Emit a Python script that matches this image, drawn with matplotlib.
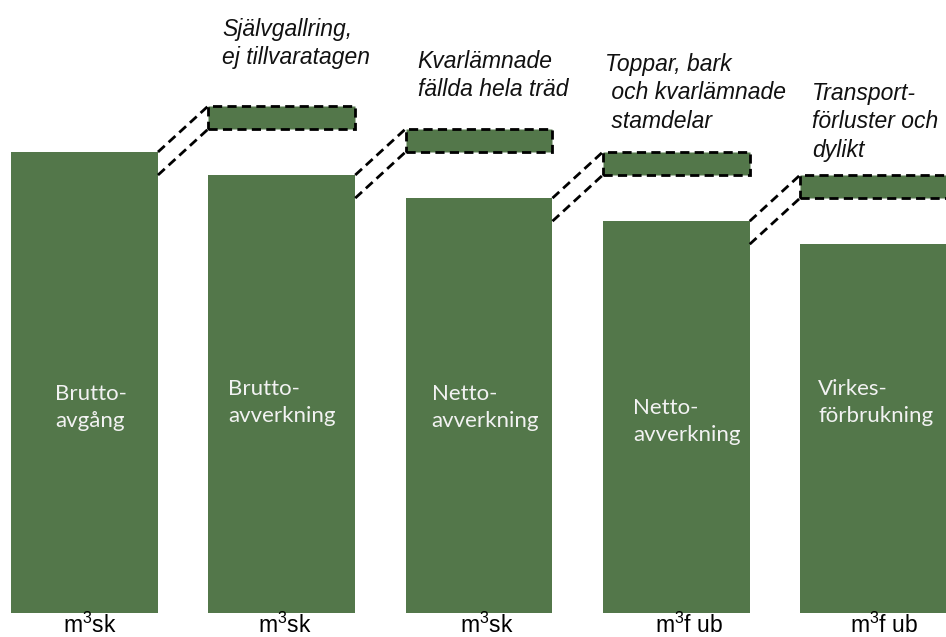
import matplotlib.pyplot as plt
from matplotlib.patches import Rectangle

plt.rcParams["mathtext.fontset"] = "custom"
plt.rcParams["mathtext.rm"] = "Liberation Sans"

# volumes, index 100 = bruttoavgång
steps = ["Brutto-\navgång", "Brutto-\navverkning", "Netto-\navverkning",
         "Netto-\navverkning", "Virkes-\nförbrukning"]
volumes = [100, 95, 90, 85, 80]
units = ["m$^3$sk", "m$^3$sk", "m$^3$sk", "m$^3$f ub", "m$^3$f ub"]
losses = ["Självgallring,\nej tillvaratagen", "Kvarlämnade\nfällda hela träd",
          "Toppar, bark\n och kvarlämnade\n stamdelar", "Transport-\nförluster och\ndylikt"]

green = "#53774a"
width = 0.745
lift = 10  # loss boxes are drawn lifted above the bars

# text placement tweaks (pixels)
step_dx = [44, 20, 26, 30, 18]
step_dy = [229, 234, 229, 215, 234]
unit_dx = [5.5, 3.5, 7.5, 12.5, 10.5]
loss_dx = [14, 12, 2, 12]
loss_dy = [595, 563, 560, 531]

fig = plt.figure(figsize=(9.46, 6.37), dpi=100)
ax = fig.add_axes([0, 0, 1, 1])
ax.set_xlim(-84.5 / 197.25, (946 - 84.5) / 197.25)
ax.set_ylim(-24 / 4.61, 613 / 4.61)
ax.axis("off")

xs = list(range(len(volumes)))
ax.bar(xs, volumes, width=width, color=green, linewidth=0)

dash = (0, (3.3, 1.9))
for i in range(1, len(volumes)):
    lo, hi = volumes[i] + lift, volumes[i - 1] + lift
    ax.add_patch(Rectangle((i - width / 2, lo), width, hi - lo, facecolor=green,
                           edgecolor="black", linewidth=2.0, linestyle=dash))
    x0, x1 = i - 1 + width / 2, i - width / 2
    for v in (volumes[i - 1], volumes[i]):
        ax.plot([x0, x1], [v, v + lift], color="black", linewidth=2.0, linestyle=dash)

for i, label in enumerate(steps):
    ax.annotate(label, xy=(i - width / 2, 0), xytext=(step_dx[i], step_dy[i]),
                textcoords="offset pixels", ha="left", va="top", color="#f2f2f2",
                fontsize=16, family="Lato", linespacing=1.45)
    ax.annotate(units[i], xy=(i, 0), xytext=(unit_dx[i], -20),
                textcoords="offset pixels", ha="center", va="baseline",
                color="black", fontsize=16.5, family="Liberation Sans")

for k, label in enumerate(losses):
    i = k + 1
    ax.annotate(label, xy=(i - width / 2, 0), xytext=(loss_dx[k], loss_dy[k]),
                textcoords="offset pixels", ha="left", va="top", color="#111111",
                fontsize=16.5, family="Liberation Sans", style="italic",
                linespacing=1.3)

fig.savefig("out.png", dpi=100)
